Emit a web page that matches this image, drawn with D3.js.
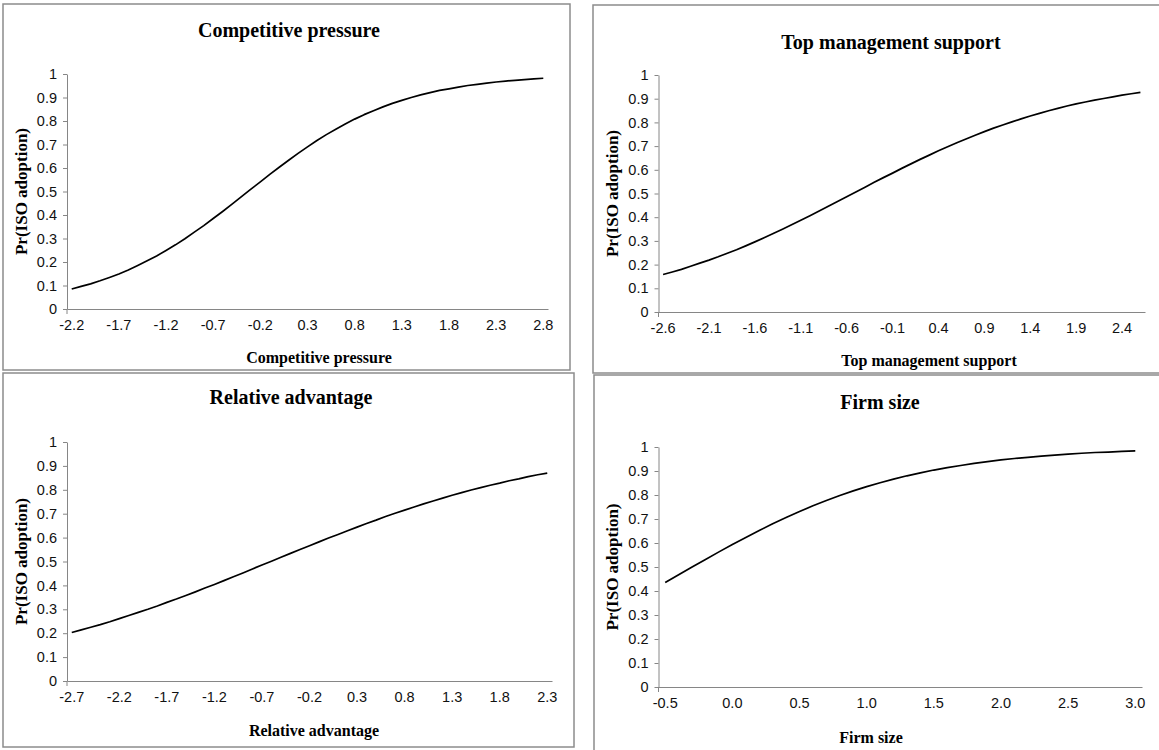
<!DOCTYPE html>
<html>
<head>
<meta charset="utf-8">
<script src="https://cdn.jsdelivr.net/npm/d3@7"></script>
<style>
  body { margin: 0; background: #fff; }
  svg { display: block; }
</style>
</head>
<body>
<div id="chart"></div>
<script>
// Predicted probability of ISO adoption, one curve per predictor
const yTicks = [0, 0.1, 0.2, 0.3, 0.4, 0.5, 0.6, 0.7, 0.8, 0.9, 1];

const competitiveX = [-2.2, -2.1, -2.0, -1.9, -1.8, -1.7, -1.6, -1.5, -1.4, -1.3, -1.2, -1.1, -1.0, -0.9, -0.8, -0.7, -0.6,
  -0.5, -0.4, -0.3, -0.2, -0.1, 0.0, 0.1, 0.2, 0.3, 0.4, 0.5, 0.6, 0.7, 0.8, 0.9, 1.0, 1.1, 1.2, 1.3, 1.4, 1.5,
  1.6, 1.7, 1.8, 1.9, 2.0, 2.1, 2.2, 2.3, 2.4, 2.5, 2.6, 2.7, 2.8];
const competitiveY = [0.085, 0.096, 0.107, 0.120, 0.134, 0.149, 0.166, 0.185, 0.205, 0.226, 0.249, 0.273, 0.299, 0.327,
  0.355, 0.385, 0.415, 0.446, 0.478, 0.510, 0.541, 0.573, 0.603, 0.633, 0.662, 0.690, 0.717, 0.742, 0.765, 0.787,
  0.808, 0.827, 0.844, 0.860, 0.875, 0.888, 0.900, 0.911, 0.921, 0.930, 0.937, 0.944, 0.951, 0.956, 0.961, 0.966,
  0.970, 0.973, 0.976, 0.979, 0.982];

const topMgmtX = [-2.6, -2.5, -2.4, -2.3, -2.2, -2.1, -2.0, -1.9, -1.8, -1.7, -1.6, -1.5, -1.4, -1.3, -1.2, -1.1, -1.0,
  -0.9, -0.8, -0.7, -0.6, -0.5, -0.4, -0.3, -0.2, -0.1, 0.0, 0.1, 0.2, 0.3, 0.4, 0.5, 0.6, 0.7, 0.8, 0.9, 1.0, 1.1,
  1.2, 1.3, 1.4, 1.5, 1.6, 1.7, 1.8, 1.9, 2.0, 2.1, 2.2, 2.3, 2.4, 2.5, 2.6];
const topMgmtY = [0.158, 0.169, 0.180, 0.193, 0.206, 0.219, 0.233, 0.248, 0.263, 0.279, 0.296, 0.313, 0.331, 0.349,
  0.368, 0.387, 0.406, 0.426, 0.446, 0.466, 0.486, 0.506, 0.526, 0.547, 0.567, 0.586, 0.606, 0.625, 0.644, 0.662,
  0.680, 0.697, 0.714, 0.730, 0.746, 0.761, 0.776, 0.789, 0.802, 0.815, 0.827, 0.838, 0.849, 0.859, 0.869, 0.878,
  0.886, 0.894, 0.901, 0.908, 0.915, 0.921, 0.927];

const relativeX = [-2.7, -2.6, -2.5, -2.4, -2.3, -2.2, -2.1, -2.0, -1.9, -1.8, -1.7, -1.6, -1.5, -1.4, -1.3, -1.2, -1.1,
  -1.0, -0.9, -0.8, -0.7, -0.6, -0.5, -0.4, -0.3, -0.2, -0.1, 0.0, 0.1, 0.2, 0.3, 0.4, 0.5, 0.6, 0.7, 0.8, 0.9, 1.0,
  1.1, 1.2, 1.3, 1.4, 1.5, 1.6, 1.7, 1.8, 1.9, 2.0, 2.1, 2.2, 2.3];
const relativeY = [0.203, 0.214, 0.225, 0.236, 0.248, 0.261, 0.274, 0.287, 0.300, 0.314, 0.329, 0.343, 0.358, 0.373,
  0.389, 0.404, 0.420, 0.436, 0.452, 0.469, 0.485, 0.501, 0.518, 0.534, 0.550, 0.566, 0.582, 0.598, 0.613, 0.629,
  0.644, 0.659, 0.673, 0.688, 0.702, 0.715, 0.728, 0.741, 0.753, 0.765, 0.777, 0.788, 0.799, 0.809, 0.819, 0.828,
  0.838, 0.846, 0.855, 0.863, 0.870];

const firmSizeX = [-0.5, -0.4, -0.3, -0.2, -0.1, 0.0, 0.1, 0.2, 0.3, 0.4, 0.5, 0.6, 0.7, 0.8, 0.9, 1.0, 1.1, 1.2, 1.3,
  1.4, 1.5, 1.6, 1.7, 1.8, 1.9, 2.0, 2.1, 2.2, 2.3, 2.4, 2.5, 2.6, 2.7, 2.8, 2.9, 3.0];
const firmSizeY = [0.435, 0.468, 0.500, 0.531, 0.563, 0.594, 0.623, 0.652, 0.680, 0.706, 0.731, 0.755, 0.777, 0.798,
  0.817, 0.835, 0.851, 0.866, 0.880, 0.892, 0.904, 0.914, 0.923, 0.932, 0.939, 0.946, 0.952, 0.957, 0.962, 0.966,
  0.970, 0.974, 0.977, 0.979, 0.982, 0.984];

// every 5th category gets a label
const labelStep = 5;

const width = 1159, height = 750;
const svg = d3.select('#chart').append('svg')
  .attr('width', width)
  .attr('height', height);

const panels = [
  { title: 'Competitive pressure', xTitle: 'Competitive pressure', xs: competitiveX, ys: competitiveY,
    box: [3, 4, 567, 366], plot: [67, 548, 74, 309], titleAt: [289, 30], xTitleAt: [319, 357], yTitleX: 21 },
  { title: 'Top management support', xTitle: 'Top management support', xs: topMgmtX, ys: topMgmtY,
    box: [593, 5, 580, 368], plot: [658.5, 1145, 75, 312], titleAt: [891, 42], xTitleAt: [929, 360], yTitleX: 612 },
  { title: 'Relative advantage', xTitle: 'Relative advantage', xs: relativeX, ys: relativeY,
    box: [3, 373, 571, 374], plot: [67, 552, 442, 681], titleAt: [291, 397], xTitleAt: [314, 730], yTitleX: 21 },
  { title: 'Firm size', xTitle: 'Firm size', xs: firmSizeX, ys: firmSizeY,
    box: [594, 375, 580, 390], plot: [658.5, 1142, 447, 687], titleAt: [880, 402], xTitleAt: [871, 737], yTitleX: 612 }
];

const axisColor = '#868686';
const serif = '"Liberation Serif", "Times New Roman", serif';
const sans = '"Liberation Sans", Arial, sans-serif';

panels.forEach(p => {
  const [bx, by, bw, bh] = p.box;
  const [left, right, top, bottom] = p.plot;

  // panel frame
  svg.append('rect')
    .attr('x', bx).attr('y', by)
    .attr('width', bw).attr('height', bh)
    .attr('fill', 'none')
    .attr('stroke', '#8c8c8c')
    .attr('stroke-width', 1.5);

  const g = svg.append('g');

  // category axis, points sit in the middle of each band
  const x = d3.scaleBand()
    .domain(p.xs.map(String))
    .range([left, right])
    .paddingInner(0)
    .paddingOuter(0);

  const y = d3.scaleLinear()
    .domain([0, 1])
    .range([bottom, top]);

  // y axis
  const yAxis = g.append('g')
    .attr('transform', `translate(${left},0)`)
    .call(d3.axisLeft(y).tickValues(yTicks).tickSize(4).tickSizeOuter(0).tickPadding(6)
      .tickFormat(d3.format('')));
  yAxis.select('.domain').attr('stroke', axisColor);
  yAxis.selectAll('.tick line').attr('stroke', axisColor);
  yAxis.selectAll('.tick text')
    .attr('fill', '#111')
    .style('font-family', sans)
    .style('font-size', '14.5px');

  // x axis
  const labelled = p.xs.filter((d, i) => i % labelStep === 0).map(String);
  const xAxis = g.append('g')
    .attr('transform', `translate(0,${bottom})`)
    .call(d3.axisBottom(x).tickValues(labelled).tickSize(0).tickSizeOuter(0).tickPadding(11)
      .tickFormat(d => (+d).toFixed(1)));
  xAxis.select('.domain').attr('stroke', axisColor);
  xAxis.selectAll('.tick text')
    .attr('fill', '#111')
    .style('font-family', sans)
    .style('font-size', '14.5px');
  xAxis.append('line')
    .attr('x1', left).attr('x2', left)
    .attr('y1', 0).attr('y2', 5)
    .attr('stroke', axisColor);

  // curve
  const line = d3.line()
    .x((d, i) => x(String(p.xs[i])) + x.bandwidth() / 2)
    .y(d => y(d));

  g.append('path')
    .datum(p.ys)
    .attr('fill', 'none')
    .attr('stroke', '#000')
    .attr('stroke-width', 1.7)
    .attr('stroke-linejoin', 'round')
    .attr('d', line);

  // titles
  svg.append('text')
    .attr('x', p.titleAt[0]).attr('y', p.titleAt[1])
    .attr('dy', '0.35em')
    .attr('text-anchor', 'middle')
    .style('font-family', serif)
    .style('font-weight', 'bold')
    .style('font-size', '20px')
    .text(p.title);

  svg.append('text')
    .attr('x', p.xTitleAt[0]).attr('y', p.xTitleAt[1])
    .attr('dy', '0.35em')
    .attr('text-anchor', 'middle')
    .style('font-family', serif)
    .style('font-weight', 'bold')
    .style('font-size', '16px')
    .text(p.xTitle);

  svg.append('text')
    .attr('transform', `translate(${p.yTitleX},${(top + bottom) / 2}) rotate(-90)`)
    .attr('dy', '0.35em')
    .attr('text-anchor', 'middle')
    .style('font-family', serif)
    .style('font-weight', 'bold')
    .style('font-size', '17px')
    .text('Pr(ISO adoption)');
});
</script>
</body>
</html>
